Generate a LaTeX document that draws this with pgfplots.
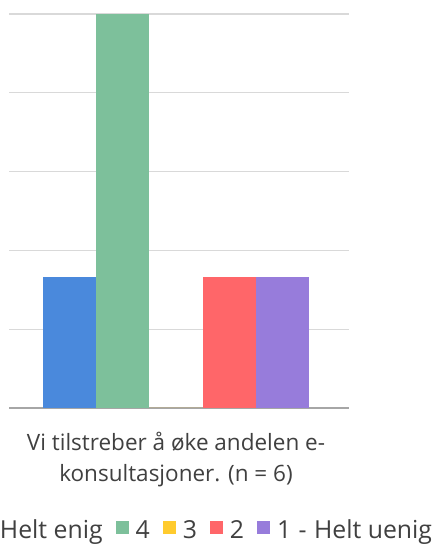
\documentclass[border=0pt]{standalone}
\usepackage{pgfplots}
\pgfplotsset{compat=1.18}
\usepackage{fontspec}
\setmainfont{Open Sans}

\definecolor{cBlue}{HTML}{4A89DC}
\definecolor{cGreen}{HTML}{7DC09B}
\definecolor{cYellow}{HTML}{FFCB2E}
\definecolor{cRed}{HTML}{FF6669}
\definecolor{cPurple}{HTML}{977CDB}
\definecolor{gridc}{HTML}{D9D9D9}
\definecolor{basec}{HTML}{A6A6A6}
\definecolor{textc}{HTML}{404040}

\newcommand\chartfont{\fontsize{22.5bp}{31.6bp}\selectfont}
\newcommand\legendfont{\fontsize{24.8bp}{29bp}\selectfont}

\begin{document}
\begin{tikzpicture}
\path[use as bounding box, clip] (0,0) rectangle (436bp,544bp);
\begin{axis}[
  at={(9bp,136bp)}, anchor=south west,
  scale only axis, width=340bp, height=394bp,
  xmin=-167, xmax=173, ymin=0, ymax=50,
  ybar=0pt, bar width=53bp,
  axis line style={draw=none},
  major tick style={draw=none},
  ytick={10,20,30,40,50}, yticklabels={},
  ymajorgrids, grid style={color=gridc, line width=1.2bp},
  extra y ticks={0}, extra y tick labels={},
  extra y tick style={grid style={color=basec, line width=1.8bp}},
  xtick={0},
  xticklabels={{Vi tilstreber å øke andelen e-\\konsultasjoner. (n = 6)}},
  xticklabel style={align=center, font=\chartfont, text=textc, yshift=-16bp},
  legend columns=-1,
  legend image code/.code={\fill[#1] (0bp,-4bp) rectangle (13bp,9bp);},
  legend style={at={(-0.086,-0.279)}, anchor=north west, draw=none, fill=none,
    inner sep=0pt, font=\legendfont, text=textc,
    /tikz/every odd column/.append style={column sep=5bp},
    /tikz/every even column/.append style={column sep=11bp}},
]
\addplot[fill=cBlue, draw=none] coordinates {(0,16.67)};
\addplot[fill=cGreen, draw=none] coordinates {(0,50)};
\addplot[fill=cYellow, draw=none] coordinates {(0,0)};
\addplot[fill=cRed, draw=none] coordinates {(0,16.67)};
\addplot[fill=cPurple, draw=none] coordinates {(0,16.67)};
\legend{Helt enig, 4, 3, 2, 1\hspace{0.3em}-\hspace{0.3em}Helt uenig}
\end{axis}
\end{tikzpicture}
\end{document}
